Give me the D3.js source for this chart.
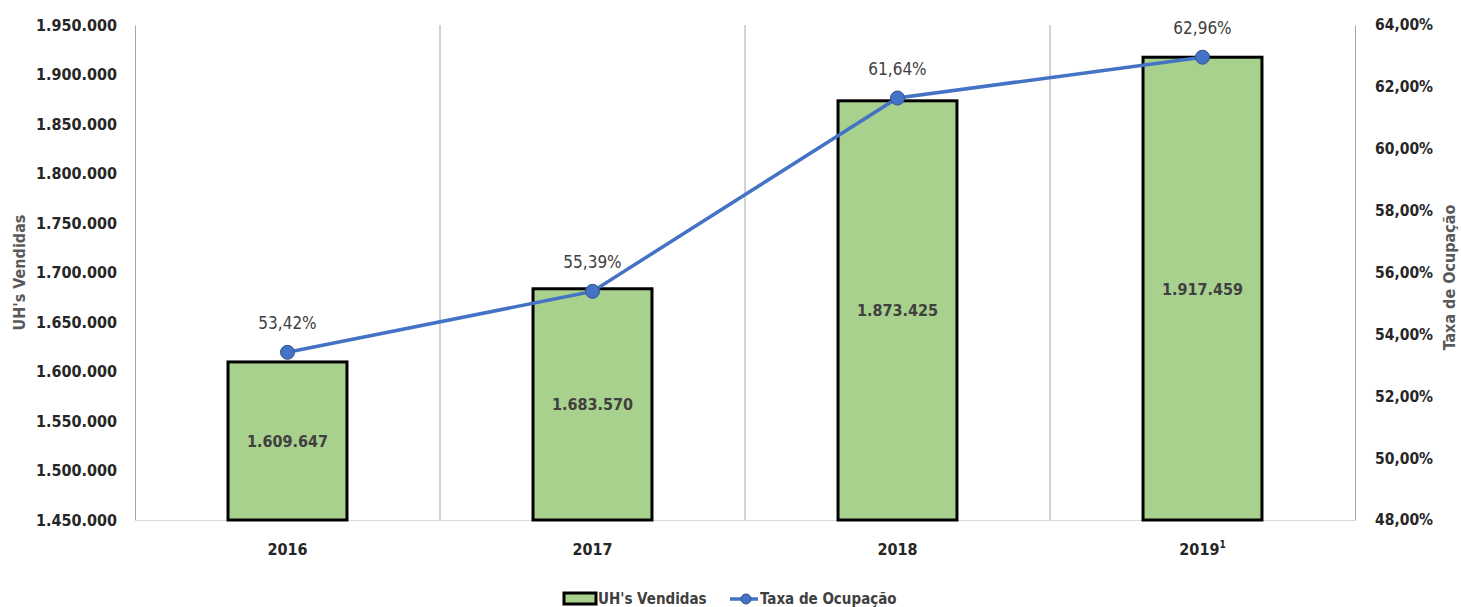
<!DOCTYPE html>
<html>
<head>
<meta charset="utf-8">
<script src="https://cdn.jsdelivr.net/npm/d3@7"></script>
<style>
  body { margin: 0; background: #fff; }
  svg text { font-family: "Liberation Sans Narrow", "DejaVu Sans Condensed", "Roboto", sans-serif; }
</style>
</head>
<body>
<div id="chart"></div>
<script>
// dados do gráfico
const anos = ["2016", "2017", "2018", "2019"];
const uhVendidas = [1609647, 1683570, 1873425, 1917459];
const taxaOcupacao = [53.42, 55.39, 61.64, 62.96];
const ticksEsq = [1450000, 1500000, 1550000, 1600000, 1650000, 1700000, 1750000, 1800000, 1850000, 1900000, 1950000];
const ticksDir = [48, 50, 52, 54, 56, 58, 60, 62, 64];

(function(){
  const W = 1461, H = 607;
  const m = { top: 25, right: 106, bottom: 87, left: 135 };
  const innerW = W - m.left - m.right;
  const innerH = H - m.top - m.bottom;

  const fmtNum = n => d3.format(",")(n).replace(/,/g, ".");
  const fmtPct = p => d3.format(".2f")(p).replace(".", ",") + "%";

  const svg = d3.select("#chart").append("svg")
    .attr("width", W).attr("height", H);

  const g = svg.append("g").attr("transform", `translate(${m.left},${m.top})`);

  const x = d3.scaleBand().domain(anos).range([0, innerW]).paddingInner(0).paddingOuter(0);
  const yL = d3.scaleLinear().domain([1450000, 1950000]).range([innerH, 0]);
  const yR = d3.scaleLinear().domain([48, 64]).range([innerH, 0]);

  // linhas verticais entre categorias
  g.selectAll(".vgrid")
    .data(anos.slice(1))
    .enter().append("line")
    .attr("x1", d => x(d)).attr("x2", d => x(d))
    .attr("y1", 0).attr("y2", innerH)
    .attr("stroke", "#a6a6a6").attr("stroke-width", 1);

  // eixo esquerdo
  const axL = g.append("g")
    .call(d3.axisLeft(yL).tickValues(ticksEsq).tickFormat(fmtNum).tickSize(0).tickPadding(18));
  axL.select(".domain").attr("stroke", "#a6a6a6");
  axL.selectAll("text").attr("font-size", 16).attr("font-weight", 700).attr("fill", "#262626");

  // eixo direito
  const axR = g.append("g").attr("transform", `translate(${innerW},0)`)
    .call(d3.axisRight(yR).tickValues(ticksDir).tickFormat(d => fmtPct(d)).tickSize(0).tickPadding(20));
  axR.select(".domain").attr("stroke", "#a6a6a6");
  axR.selectAll("text").attr("font-size", 15.5).attr("font-weight", 700).attr("fill", "#262626");

  // eixo x
  const axX = g.append("g").attr("transform", `translate(0,${innerH})`)
    .call(d3.axisBottom(x).tickSize(0).tickPadding(24).tickFormat(d => d));
  axX.select(".domain").attr("stroke", "#d9d9d9");
  axX.selectAll("text").attr("font-size", 16).attr("font-weight", 700).attr("fill", "#262626")
    .filter(d => d === "2019")
    .append("tspan").attr("font-size", 10).attr("dy", -7).text("1");

  // títulos dos eixos
  svg.append("text")
    .attr("transform", `translate(25,${m.top + innerH / 2}) rotate(-90)`)
    .attr("text-anchor", "middle")
    .attr("font-size", 16).attr("font-weight", 700).attr("fill", "#595959")
    .text("UH's Vendidas");
  svg.append("text")
    .attr("transform", `translate(1455,${m.top + innerH / 2 + 5}) rotate(-90)`)
    .attr("text-anchor", "middle")
    .attr("font-size", 16).attr("font-weight", 700).attr("fill", "#595959")
    .text("Taxa de Ocupação");

  // barras
  const bw = x.bandwidth() * 0.39;
  const dados = anos.map((a, i) => ({ ano: a, uh: uhVendidas[i], taxa: taxaOcupacao[i] }));

  g.selectAll(".bar")
    .data(dados)
    .enter().append("rect")
    .attr("x", d => x(d.ano) + x.bandwidth() / 2 - bw / 2)
    .attr("y", d => yL(d.uh))
    .attr("width", bw)
    .attr("height", d => innerH - yL(d.uh))
    .attr("fill", "#a9d18e")
    .attr("stroke", "#000").attr("stroke-width", 3);

  g.selectAll(".barLabel")
    .data(dados)
    .enter().append("text")
    .attr("x", d => x(d.ano) + x.bandwidth() / 2)
    .attr("y", d => (yL(d.uh) + innerH) / 2 + 6)
    .attr("text-anchor", "middle")
    .attr("font-size", 16).attr("font-weight", 700).attr("fill", "#404040")
    .text(d => fmtNum(d.uh));

  // linha da taxa
  const line = d3.line()
    .x(d => x(d.ano) + x.bandwidth() / 2)
    .y(d => yR(d.taxa));

  g.append("path")
    .datum(dados)
    .attr("d", line)
    .attr("fill", "none")
    .attr("stroke", "#4472c4").attr("stroke-width", 3.5);

  g.selectAll(".pt")
    .data(dados)
    .enter().append("circle")
    .attr("cx", d => x(d.ano) + x.bandwidth() / 2)
    .attr("cy", d => yR(d.taxa))
    .attr("r", 7)
    .attr("fill", "#4472c4")
    .attr("stroke", "#2f528f").attr("stroke-width", 1);

  g.selectAll(".ptLabel")
    .data(dados)
    .enter().append("text")
    .attr("x", d => x(d.ano) + x.bandwidth() / 2)
    .attr("y", d => yR(d.taxa) - 23)
    .attr("text-anchor", "middle")
    .attr("font-size", 17).attr("fill", "#404040")
    .text(d => fmtPct(d.taxa));

  // legenda
  const lg = svg.append("g").attr("transform", "translate(0,597)");
  lg.append("rect")
    .attr("x", 564).attr("y", -4).attr("width", 32).attr("height", 11)
    .attr("fill", "#a9d18e").attr("stroke", "#000").attr("stroke-width", 3);
  lg.append("text")
    .attr("x", 598).attr("y", 7)
    .attr("font-size", 15).attr("font-weight", 700).attr("fill", "#404040")
    .text("UH's Vendidas");
  lg.append("line")
    .attr("x1", 730).attr("x2", 758).attr("y1", 2).attr("y2", 2)
    .attr("stroke", "#4472c4").attr("stroke-width", 3.5);
  lg.append("circle")
    .attr("cx", 746).attr("cy", 2).attr("r", 5)
    .attr("fill", "#4472c4").attr("stroke", "#2f528f");
  lg.append("text")
    .attr("x", 760).attr("y", 7)
    .attr("font-size", 15).attr("font-weight", 700).attr("fill", "#404040")
    .text("Taxa de Ocupação");
})();
</script>
</body>
</html>
